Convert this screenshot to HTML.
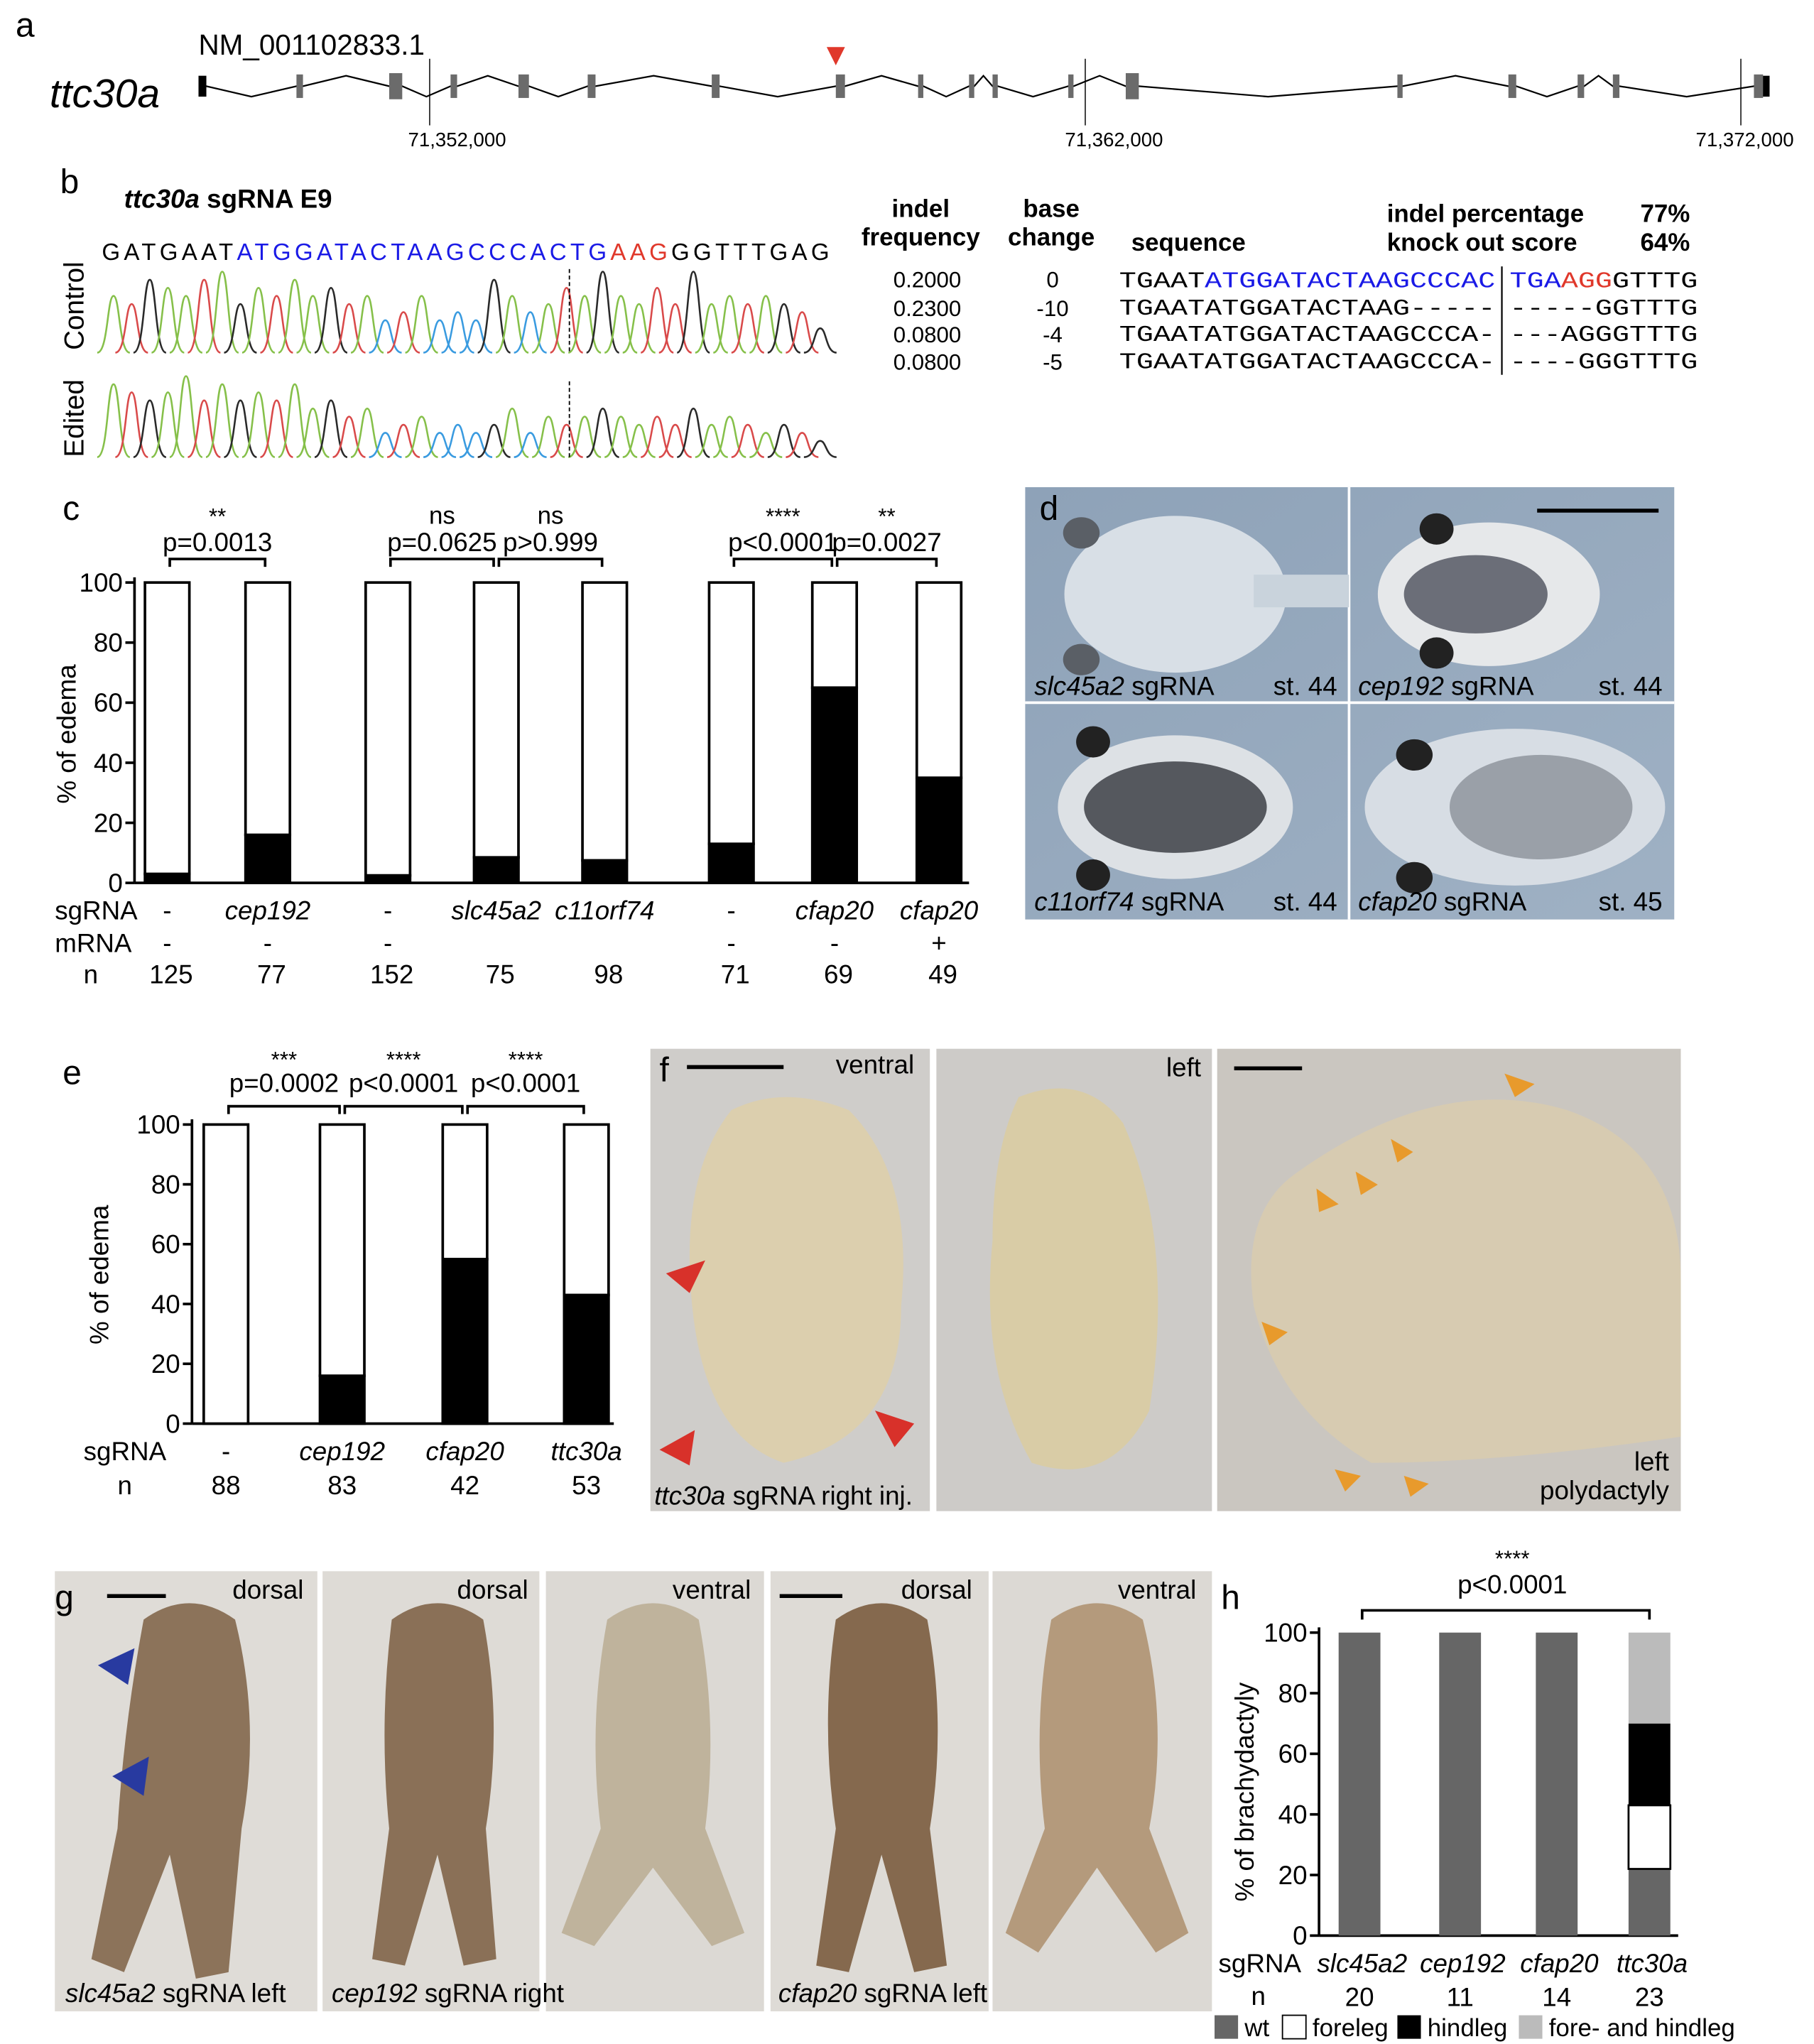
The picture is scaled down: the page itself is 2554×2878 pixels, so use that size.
<!DOCTYPE html>
<html><head><meta charset="utf-8">
<style>
html,body{margin:0;padding:0;background:#fff;}
svg{display:block;font-family:"Liberation Sans",Arial,sans-serif;}
.it{font-style:italic}
</style></head>
<body>
<svg id="fig" width="2554" height="2878" viewBox="0 0 1389 1565" preserveAspectRatio="none" xmlns="http://www.w3.org/2000/svg">
<defs>
<linearGradient id="bluebg" x1="0" y1="0" x2="1" y2="1"><stop offset="0" stop-color="#8ea2b8"/><stop offset="1" stop-color="#9fb1c4"/></linearGradient>
</defs>

<!-- Panel a -->
<g>
<text x="12" y="28" font-size="26">a</text>
<text x="38" y="82" font-size="31" class="it">ttc30a</text>
<text x="152" y="42" font-size="22">NM_001102833.1</text>
<g id="genemodel"></g>
<polygon points="633,36 647,36 640,50" fill="#e0382b"/>
<line x1="329" y1="45" x2="329" y2="96" stroke="#000" stroke-width="0.8"/>
<line x1="831" y1="45" x2="831" y2="96" stroke="#000" stroke-width="0.8"/>
<line x1="1333" y1="45" x2="1333" y2="96" stroke="#000" stroke-width="0.8"/>
<text x="350" y="112" font-size="15" text-anchor="middle">71,352,000</text>
<text x="853" y="112" font-size="15" text-anchor="middle">71,362,000</text>
<text x="1336" y="112" font-size="15" text-anchor="middle">71,372,000</text>
</g>

<!-- Panel b -->
<g>
<text x="46" y="148" font-size="26">b</text>
<text x="95" y="159" font-size="20" font-weight="bold"><tspan class="it">ttc30a</tspan> sgRNA E9</text>
<text x="78" y="199" font-size="18" textLength="557" lengthAdjust="spacing">GATGAAT<tspan fill="#1a1ae6">ATGGATACTAAGCCCACTG</tspan><tspan fill="#e0382b">AAG</tspan>GGTTTGAG</text>
<text transform="translate(64,268) rotate(-90)" font-size="21">Control</text>
<text transform="translate(64,350) rotate(-90)" font-size="21">Edited</text>
<g id="chromo"></g>
<line x1="436" y1="206" x2="436" y2="270" stroke="#000" stroke-dasharray="3,2"/>
<line x1="436" y1="292" x2="436" y2="350" stroke="#000" stroke-dasharray="3,2"/>
<g font-size="19" font-weight="bold" text-anchor="middle">
<text x="705" y="166">indel</text><text x="705" y="188">frequency</text>
<text x="805" y="166">base</text><text x="805" y="188">change</text>
<text x="910" y="192">sequence</text>
</g>
<text x="1062" y="170" font-size="19" font-weight="bold">indel percentage</text>
<text x="1256" y="170" font-size="19" font-weight="bold">77%</text>
<text x="1062" y="192" font-size="19" font-weight="bold">knock out score</text>
<text x="1256" y="192" font-size="19" font-weight="bold">64%</text>
<g font-size="17" text-anchor="middle">
<text x="710" y="220">0.2000</text><text x="806" y="220">0</text>
<text x="710" y="242">0.2300</text><text x="806" y="242">-10</text>
<text x="710" y="262">0.0800</text><text x="806" y="262">-4</text>
<text x="710" y="283">0.0800</text><text x="806" y="283">-5</text>
</g>
<g font-family="Liberation Mono,monospace" font-size="17">
<text x="857" y="220" textLength="288" lengthAdjust="spacingAndGlyphs">TGAAT<tspan fill="#1a1ae6">ATGGATACTAAGCCCAC</tspan></text>
<text x="1156" y="220" textLength="144" lengthAdjust="spacingAndGlyphs"><tspan fill="#1a1ae6">TGA</tspan><tspan fill="#e0382b">AGG</tspan>GTTTG</text>
<text x="857" y="241" textLength="288" lengthAdjust="spacingAndGlyphs">TGAATATGGATACTAAG-----</text>
<text x="1156" y="241" textLength="144" lengthAdjust="spacingAndGlyphs">-----GGTTTG</text>
<text x="857" y="261" textLength="288" lengthAdjust="spacingAndGlyphs">TGAATATGGATACTAAGCCCA-</text>
<text x="1156" y="261" textLength="144" lengthAdjust="spacingAndGlyphs">---AGGGTTTG</text>
<text x="857" y="282" textLength="288" lengthAdjust="spacingAndGlyphs">TGAATATGGATACTAAGCCCA-</text>
<text x="1156" y="282" textLength="144" lengthAdjust="spacingAndGlyphs">----GGGTTTG</text>
</g>
<line x1="1150" y1="204" x2="1150" y2="287" stroke="#000" stroke-width="1.2"/>
</g>

<!-- Panel c -->
<g id="chartC">
<text x="48" y="398" font-size="26">c</text>
<text transform="translate(58,562) rotate(-90)" font-size="20" text-anchor="middle">% of edema</text>
</g>

<!-- Panel d photos -->
<g>
<rect x="785" y="373" width="497" height="331" fill="url(#bluebg)"/>
<line x1="1033" y1="373" x2="1033" y2="704" stroke="#fff" stroke-width="2"/>
<line x1="785" y1="538" x2="1282" y2="538" stroke="#fff" stroke-width="2"/>
<ellipse cx="900" cy="455" rx="85" ry="60" fill="#d8dfe6"/><rect x="960" y="440" width="73" height="25" fill="#c9d3dc"/>
<ellipse cx="828" cy="408" rx="14" ry="12" fill="#5a5f66"/><ellipse cx="828" cy="505" rx="14" ry="12" fill="#5a5f66"/>
<ellipse cx="1140" cy="455" rx="85" ry="55" fill="#e6e8ea"/><ellipse cx="1130" cy="455" rx="55" ry="30" fill="#6b6e78"/>
<ellipse cx="1100" cy="405" rx="13" ry="12" fill="#222"/><ellipse cx="1100" cy="500" rx="13" ry="12" fill="#222"/>
<ellipse cx="900" cy="618" rx="90" ry="55" fill="#dde1e5"/><ellipse cx="900" cy="618" rx="70" ry="35" fill="#55585e"/>
<ellipse cx="837" cy="568" rx="13" ry="12" fill="#222"/><ellipse cx="837" cy="670" rx="13" ry="12" fill="#222"/>
<ellipse cx="1160" cy="618" rx="115" ry="60" fill="#d7dde4"/><ellipse cx="1180" cy="618" rx="70" ry="40" fill="#9aa0a8"/>
<ellipse cx="1083" cy="578" rx="14" ry="12" fill="#222"/><ellipse cx="1083" cy="672" rx="14" ry="12" fill="#222"/>
<line x1="1177" y1="391" x2="1270" y2="391" stroke="#000" stroke-width="3"/>
<text x="796" y="398" font-size="26">d</text>
<g font-size="20">
<text x="792" y="532"><tspan class="it">slc45a2</tspan> sgRNA</text><text x="975" y="532">st. 44</text>
<text x="1040" y="532"><tspan class="it">cep192</tspan> sgRNA</text><text x="1224" y="532">st. 44</text>
<text x="792" y="697"><tspan class="it">c11orf74</tspan> sgRNA</text><text x="975" y="697">st. 44</text>
<text x="1040" y="697"><tspan class="it">cfap20</tspan> sgRNA</text><text x="1224" y="697">st. 45</text>
</g>
</g>

<!-- Panel e -->
<g id="chartE">
<text x="48" y="830" font-size="26">e</text>
<text transform="translate(83,976) rotate(-90)" font-size="20" text-anchor="middle">% of edema</text>
</g>

<!-- Panel f photos -->
<g>
<rect x="498" y="803" width="214" height="354" fill="#cfcdca"/>
<rect x="717" y="803" width="211" height="354" fill="#cdcbc8"/>
<rect x="932" y="803" width="355" height="354" fill="#cac6c0"/>
<path d="M560,850 Q600,830 650,850 Q700,900 690,1000 Q690,1100 600,1120 Q540,1100 530,1000 Q520,900 560,850Z" fill="#dccfae"/>
<path d="M780,840 Q830,820 860,860 Q900,950 880,1080 Q850,1140 790,1120 Q750,1050 760,950 Q760,880 780,840Z" fill="#d9cca6"/>
<path d="M990,900 Q1100,820 1200,850 Q1287,880 1287,980 L1287,1100 Q1150,1120 1050,1120 Q980,1080 960,1000 Q950,930 990,900Z" fill="#d7cbb1"/>
<polygon points="510,975 540,965 528,990" fill="#d8312a"/><polygon points="505,1110 532,1095 528,1122" fill="#d8312a"/><polygon points="700,1090 670,1080 685,1108" fill="#d8312a"/>
<g fill="#e89a2c"><polygon points="1152,822 1175,830 1160,840"/><polygon points="1008,910 1025,922 1010,928"/><polygon points="1038,897 1055,907 1042,915"/><polygon points="1065,872 1082,882 1070,890"/><polygon points="966,1012 986,1020 972,1030"/><polygon points="1022,1125 1042,1130 1030,1142"/><polygon points="1075,1130 1094,1136 1080,1146"/></g>
<line x1="526" y1="817" x2="600" y2="817" stroke="#000" stroke-width="3"/>
<line x1="945" y1="818" x2="997" y2="818" stroke="#000" stroke-width="3"/>
<text x="505" y="828" font-size="26">f</text>
<g font-size="20">
<text x="640" y="822">ventral</text><text x="893" y="824">left</text>
<text x="1278" y="1126" text-anchor="end">left</text><text x="1278" y="1148" text-anchor="end">polydactyly</text>
<text x="501" y="1152"><tspan class="it">ttc30a</tspan> sgRNA right inj.</text>
</g>
</g>

<!-- Panel g photos -->
<g>
<rect x="42" y="1203" width="201" height="337" fill="#dfdcd7"/>
<rect x="247" y="1203" width="166" height="337" fill="#dedbd6"/>
<rect x="418" y="1203" width="167" height="337" fill="#dcd9d4"/>
<rect x="590" y="1203" width="167" height="337" fill="#dedbd6"/>
<rect x="760" y="1203" width="168" height="337" fill="#dcd9d4"/>
<path d="M110,1240 Q145,1215 180,1240 Q200,1320 185,1400 L175,1510 L150,1515 L130,1420 L95,1510 L70,1500 L90,1400 Q95,1320 110,1240Z" fill="#8c735a"/>
<path d="M300,1240 Q335,1215 370,1240 Q385,1320 372,1400 L380,1500 L355,1505 L335,1420 L310,1505 L285,1500 L298,1400 Q290,1320 300,1240Z" fill="#8a7057"/>
<path d="M465,1240 Q500,1215 535,1240 Q550,1320 540,1400 L570,1480 L545,1490 L500,1430 L455,1490 L430,1480 L460,1400 Q450,1320 465,1240Z" fill="#bfb39c"/>
<path d="M640,1240 Q675,1215 710,1240 Q725,1320 712,1400 L725,1505 L700,1510 L675,1420 L650,1510 L625,1505 L640,1400 Q628,1320 640,1240Z" fill="#85694e"/>
<path d="M805,1240 Q840,1215 875,1240 Q895,1320 880,1400 L910,1480 L885,1495 L840,1430 L795,1495 L770,1480 L800,1400 Q790,1320 805,1240Z" fill="#b49a7c"/>
<polygon points="75,1275 103,1262 98,1290" fill="#283aa0"/><polygon points="86,1360 114,1345 110,1375" fill="#283aa0"/>
<line x1="82" y1="1222" x2="127" y2="1222" stroke="#000" stroke-width="3"/>
<line x1="597" y1="1222" x2="645" y2="1222" stroke="#000" stroke-width="3"/>
<text x="42" y="1232" font-size="26">g</text>
<g font-size="20">
<text x="178" y="1224">dorsal</text><text x="350" y="1224">dorsal</text><text x="515" y="1224">ventral</text><text x="690" y="1224">dorsal</text><text x="856" y="1224">ventral</text>
<text x="50" y="1533"><tspan class="it">slc45a2</tspan> sgRNA left</text>
<text x="254" y="1533"><tspan class="it">cep192</tspan> sgRNA right</text>
<text x="596" y="1533"><tspan class="it">cfap20</tspan> sgRNA left</text>
</g>
</g>

<!-- Panel h -->
<g id="chartH">
<text x="935" y="1232" font-size="26">h</text>
<text transform="translate(960,1372) rotate(-90)" font-size="20" text-anchor="middle">% of brachydactyly</text>
</g>
</svg>

<script>
const NS="http://www.w3.org/2000/svg";
function mk(parent,tag,attrs,txt){const e=document.createElementNS(NS,tag);for(const k in attrs)e.setAttribute(k,attrs[k]);if(txt!==undefined)e.textContent=txt;parent.appendChild(e);return e;}

// ---- gene model ----
const exonX=[227,298,345,397,450,545,640,703,742,760,818,862,1070,1155,1208,1235,1343];
const exonW=[5,10,5,8,6,6,7,4,4,4,4,10,4,6,5,5,7];
(function(){
  const g=document.getElementById('genemodel');
  let pts=[[153,66]];
  const xs=[158].concat(exonX);
  for(let i=0;i<xs.length-1;i++){
    const a=xs[i]+(i===0?0:exonW[i-1]), b=xs[i+1];
    pts.push([a,66]);pts.push([(a+b)/2,i%2?58:74]);pts.push([b,66]);
  }
  pts.push([1352,66]);
  mk(g,'polyline',{points:pts.map(p=>p.join(',')).join(' '),fill:'none',stroke:'#000','stroke-width':1.2});
  mk(g,'rect',{x:152,y:58,width:6,height:16,fill:'#000'});
  mk(g,'rect',{x:1348,y:58,width:7,height:16,fill:'#000'});
  exonX.forEach((x,i)=>{
    const r=mk(g,'rect',{x:x,y:exonW[i]>8?56:57,width:exonW[i],height:exonW[i]>8?20:18,fill:'#6b6b6b'});
    
    
  });
})();

// ---- chromatograms ----
const baseColors=['#2a2a2a','#d94a4a','#3a9be0','#86c04a'];
const ctrlPeaks=[3,1,0,3,3,1,3,0,3,1,3,3,0,1,3,2,1,3,2,2,2,0,3,2,3,1,3,0,3,3,1,1,0,3,3,1,3,0,1,0];
const ctrlH=[0.7,0.6,0.9,0.8,0.7,0.9,1,0.6,0.8,0.7,0.9,0.7,0.8,0.6,0.7,0.4,0.5,0.7,0.4,0.5,0.4,0.9,0.7,0.5,0.6,0.8,0.7,1,0.7,0.6,0.8,0.6,1,0.6,0.7,0.6,0.7,0.6,0.5,0.3];
const editH=[0.9,0.8,0.7,0.8,1,0.7,0.9,0.7,0.8,0.7,0.9,0.6,0.7,0.5,0.6,0.3,0.4,0.5,0.3,0.4,0.3,0.4,0.6,0.3,0.5,0.4,0.5,0.6,0.5,0.4,0.5,0.4,0.6,0.4,0.5,0.4,0.3,0.4,0.3,0.2];
(function(){
  const g=document.getElementById('chromo');
  function draw(y0,amp,H){
    const step=(635-80)/ctrlPeaks.length;
    ctrlPeaks.forEach((b,i)=>{
      const x=80+step*(i+0.5), h=amp*H[i];
      const p=mk(g,'path',{d:`M${x-step*0.9},${y0} C${x-step*0.3},${y0} ${x-step*0.35},${y0-h} ${x},${y0-h} C${x+step*0.35},${y0-h} ${x+step*0.3},${y0} ${x+step*0.9},${y0}`,fill:'none',stroke:baseColors[b],'stroke-width':1.4});
      
      
    });
  }
  draw(270,62,ctrlH);
  draw(350,62,editH);
})();

// ---- generic bar chart ----
function barChart(gid,o){
  const g=document.getElementById(gid);
  const y=v=>o.y0-(o.y0-o.y100)*v/100;
  mk(g,'line',{x1:o.ax,y1:o.y100-4,x2:o.ax,y2:o.y0,stroke:'#000','stroke-width':2});
  mk(g,'line',{x1:o.ax,y1:o.y0,x2:o.xEnd,y2:o.y0,stroke:'#000','stroke-width':2});
  o.ticks.forEach(t=>{
    mk(g,'line',{x1:o.ax-7,y1:y(t),x2:o.ax,y2:y(t),stroke:'#000','stroke-width':2});
    const tl=mk(g,'text',{x:o.ax-9,y:y(t)+7,'font-size':20,'text-anchor':'end'},String(t));
    
    
  });
  o.centers.forEach((c,i)=>{
    let acc=0;
    o.stacks.forEach((s,k)=>{
      const v=s[i]; if(v<=0){return;}
      const sw=(o.sw===0&&o.fills[k]==='#fff')?1.5:o.sw;
      const r=mk(g,'rect',{x:c-o.bw/2,y:y(acc+v),width:o.bw,height:y(acc)-y(acc+v),fill:o.fills[k],stroke:'#000','stroke-width':sw});
      
      
      acc+=v;
    });
  });
}
</script>

<script>
// Panel c data
const cCats=['-','cep192','-','slc45a2','c11orf74','-','cfap20','cfap20'];
const cMrna=['-','-','-','','','-','-','+'];
const cN=['125','77','152','75','98','71','69','49'];
const cEdema=[3,16,2.5,8.5,7.5,13,65,35];
const cTicks=[0,20,40,60,80,100];
const cCenters=[128,205,297,380,463,560,639,719];
(function(){
  barChart('chartC',{ax:103,y0:676,y100:446,xEnd:742,ticks:cTicks,centers:cCenters,bw:34,sw:2,
    stacks:[cEdema,cEdema.map(v=>100-v)],fills:['#000','#fff']});
  const g=document.getElementById('chartC');
  mk(g,'text',{x:42,y:704,'font-size':20},'sgRNA');
  mk(g,'text',{x:42,y:729,'font-size':20},'mRNA');
  mk(g,'text',{x:64,y:753,'font-size':20},'n');
  cCenters.forEach((c,i)=>{
    const it=cCats[i]!=='-';
    const t=mk(g,'text',{x:c,y:704,'font-size':20,'text-anchor':'middle','font-style':it?'italic':'normal'},cCats[i]);
    
    
    mk(g,'text',{x:c,y:729,'font-size':20,'text-anchor':'middle'},cMrna[i]);
    mk(g,'text',{x:c+3,y:753,'font-size':20,'text-anchor':'middle'},cN[i]);
  });
  const br=[[0,1,'**','p=0.0013'],[2,3,'ns','p=0.0625'],[3,4,'ns','p>0.999'],[5,6,'****','p<0.0001'],[6,7,'**','p=0.0027']];
  br.forEach(b=>{
    const x1=cCenters[b[0]]+2,x2=cCenters[b[1]]-2,yy=428,m=(x1+x2)/2;
    mk(g,'path',{d:`M${x1},${yy+6} V${yy} H${x2} V${yy+6}`,fill:'none',stroke:'#000','stroke-width':2});
    mk(g,'text',{x:m,y:yy-6,'font-size':20,'text-anchor':'middle'},b[3]);
    mk(g,'text',{x:m,y:yy-27,'font-size':b[2]==='ns'?19:17,'text-anchor':'middle'},b[2]);
  });
})();

// Panel e data
const eCats=['-','cep192','cfap20','ttc30a'];
const eN=['88','83','42','53'];
const eEdema=[0,16,55,43];
const eTicks=[0,20,40,60,80,100];
const eCenters=[173,262,356,449];
(function(){
  barChart('chartE',{ax:147,y0:1090,y100:861,xEnd:470,ticks:eTicks,centers:eCenters,bw:34,sw:2,
    stacks:[eEdema,eEdema.map(v=>100-v)],fills:['#000','#fff']});
  const g=document.getElementById('chartE');
  mk(g,'text',{x:64,y:1118,'font-size':20},'sgRNA');
  mk(g,'text',{x:90,y:1144,'font-size':20},'n');
  eCenters.forEach((c,i)=>{
    const t=mk(g,'text',{x:c,y:1118,'font-size':20,'text-anchor':'middle','font-style':i?'italic':'normal'},eCats[i]);
    
    
    mk(g,'text',{x:c,y:1144,'font-size':20,'text-anchor':'middle'},eN[i]);
  });
  const br=[[0,1,'***','p=0.0002'],[1,2,'****','p<0.0001'],[2,3,'****','p<0.0001']];
  br.forEach(b=>{
    const x1=eCenters[b[0]]+2,x2=eCenters[b[1]]-2,yy=847,m=(x1+x2)/2;
    mk(g,'path',{d:`M${x1},${yy+6} V${yy} H${x2} V${yy+6}`,fill:'none',stroke:'#000','stroke-width':2});
    mk(g,'text',{x:m,y:yy-11,'font-size':20,'text-anchor':'middle'},b[3]);
    mk(g,'text',{x:m,y:yy-30,'font-size':17,'text-anchor':'middle'},b[2]);
  });
})();

// Panel h data
const hCats=['slc45a2','cep192','cfap20','ttc30a'];
const hN=['20','11','14','23'];
const hWt=[100,100,100,22];
const hForeleg=[0,0,0,21];
const hHindleg=[0,0,0,27];
const hBoth=[0,0,0,30];
const hTicks=[0,20,40,60,80,100];
const hCenters=[1041,1118,1192,1263];
(function(){
  barChart('chartH',{ax:1010,y0:1482,y100:1250,xEnd:1285,ticks:hTicks,centers:hCenters,bw:32,sw:0,
    stacks:[hWt,hForeleg,hHindleg,hBoth],fills:['#666','#fff','#000','#bbb']});
  const g=document.getElementById('chartH');
  mk(g,'text',{x:933,y:1510,'font-size':20},'sgRNA');
  mk(g,'text',{x:958,y:1535,'font-size':20},'n');
  hCenters.forEach((c,i)=>{
    const t=mk(g,'text',{x:c+2,y:1510,'font-size':20,'text-anchor':'middle','font-style':'italic'},hCats[i]);
    
    
    mk(g,'text',{x:c,y:1536,'font-size':20,'text-anchor':'middle'},hN[i]);
  });
  mk(g,'path',{d:'M1043,1240 V1233 H1263 V1240',fill:'none',stroke:'#000','stroke-width':2});
  mk(g,'text',{x:1158,y:1220,'font-size':20,'text-anchor':'middle'},'p<0.0001');
  mk(g,'text',{x:1158,y:1199,'font-size':17,'text-anchor':'middle'},'****');
  const leg=[['#666','wt',930],['#fff','foreleg',982],['#000','hindleg',1070],['#bbb','fore- and hindleg',1163]];
  leg.forEach(l=>{
    const r=mk(g,'rect',{x:l[2],y:1543,width:18,height:18,fill:l[0],stroke:'#000','stroke-width':l[0]==='#fff'?1:0});
    
    
    const t=mk(g,'text',{x:l[2]+23,y:1559,'font-size':19},l[1]);
    
    
  });
})();
</script>
</body></html>
